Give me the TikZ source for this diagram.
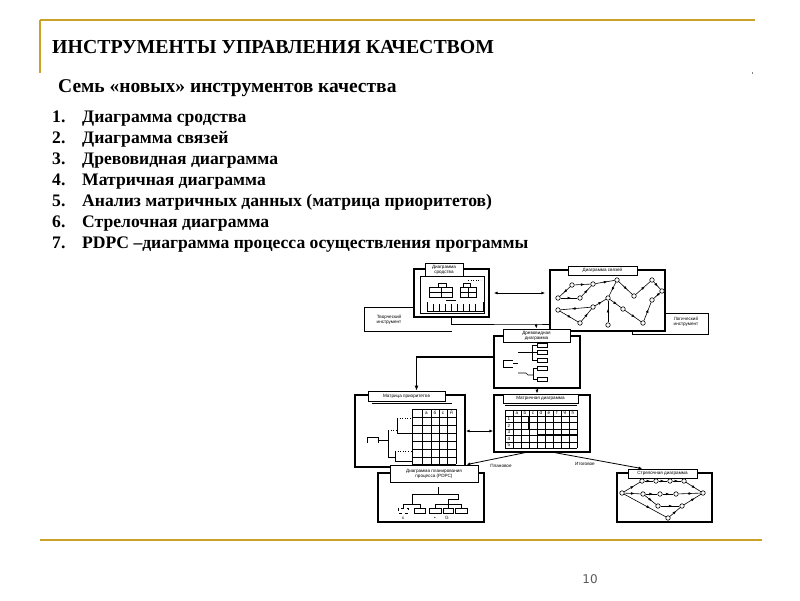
\documentclass[tikz,border=0pt]{standalone}
\usepackage{fontspec}
\setmainfont{Liberation Serif}
\newfontfamily\pagenumfont{DejaVu Sans}
\newfontfamily\dgsans{Liberation Sans}
\newcommand\dgfont{\dgsans\fontsize{4.6}{5.2}\selectfont}
\usetikzlibrary{arrows.meta,decorations.markings}
\definecolor{gold}{RGB}{201,162,39}
\definecolor{pgnum}{RGB}{90,90,90}
\tikzset{
  goldline/.style={draw=gold, line width=2.2pt},
  heading/.style={inner sep=0pt, anchor=base west, font=\bfseries\fontsize{19.8}{22}\selectfont},
  subhead/.style={inner sep=0pt, anchor=base west, font=\bfseries\fontsize{19.5}{22}\selectfont},
  item/.style={inner sep=0pt, anchor=base west, font=\bfseries\fontsize{17.6}{19}\selectfont},
  frame/.style={draw, line width=1.3pt, fill=white, inner sep=0pt},
  inframe/.style={draw, line width=0.5pt},
  tab/.style={draw, line width=0.7pt, fill=white, inner sep=0pt, font=\dgfont, align=center},
  lbl/.style={inner sep=0pt, font=\dgfont, align=center},
  conn/.style={line width=0.8pt},
  arr/.style={conn, -{Latex[length=4pt,width=3pt]}},
  darr/.style={conn, {Latex[length=4pt,width=3pt]}-{Latex[length=4pt,width=3pt]}},
  thickarr/.style={line width=1.6pt, -{Latex[length=5pt,width=4pt]}},
  vx/.style={circle, draw, line width=0.6pt, fill=white, minimum size=4.5pt, inner sep=0pt},
  mida/.style={line width=0.6pt, postaction=decorate, decoration={markings, mark=at position 0.62 with {\arrow{Latex[length=3.5pt,width=2.8pt]}}}},
  fine/.style={line width=0.6pt},
}
\begin{document}
\begin{tikzpicture}[x=1pt,y=-1pt]
\useasboundingbox (0,0) rectangle (800,600);
% header
\draw[goldline] (40,20) -- (755,20);
\draw[goldline] (40,20) -- (40,73);
\fill[gray] (751.5,72) rectangle (753,73.5);
\node[heading] (title) at (52,53) {ИНСТРУМЕНТЫ УПРАВЛЕНИЯ КАЧЕСТВОМ};
\node[subhead] (sub) at (58,92) {Семь «новых» инструментов качества};
\foreach \t [count=\i] in {{Диаграмма сродства},{Диаграмма связей},{Древовидная диаграмма},{Матричная диаграмма},{Анализ матричных данных (матрица приоритетов)},{Стрелочная диаграмма},{PDPC –диаграмма процесса осуществления программы}}{
  \node[item] (num\i) at (52,101+21*\i) {\i.};
  \node[item] (txt\i) at (82,101+21*\i) {\t};
}
% footer
\draw[goldline] (40,540) -- (762,540);
\node[inner sep=0pt, anchor=base, font=\pagenumfont\fontsize{12}{14}\selectfont, text=pgnum] (pg) at (590,583) {10};

% ---------- diagram boxes ----------
\node[frame, minimum width=75pt, minimum height=48pt] (aff) at (451.5,293) {};
\node[frame, minimum width=115pt, minimum height=61pt] (rel) at (607.5,300.5) {};
\node[frame, minimum width=86pt, minimum height=52pt] (tree) at (537,362) {};
\node[frame, minimum width=110pt, minimum height=72pt] (prio) at (410,431) {};
\node[frame, minimum width=96pt, minimum height=57pt] (mat) at (542,423.5) {};
\node[frame, minimum width=106pt, minimum height=49pt] (pdpc) at (431,497.5) {};
\node[frame, minimum width=95pt, minimum height=49pt] (arrd) at (664.5,497.5) {};

% ---------- affinity diagram ----------
\draw[fine] (420,276) rectangle (484,313);
\node[tab, minimum width=38pt, minimum height=13pt] (afftab) at (444,269.5) {Диаграмма\\сродства};
\draw[fine] (429,287) rectangle (452,297);
\draw[fine] (429,292) -- (452,292);
\draw[fine] (438,283) rectangle (446,287);
\draw[fine] (441,287) -- (441,297);
\draw[fine] (460,287) rectangle (476,297);
\draw[fine] (468,287) -- (468,297);
\draw[fine] (460,292) -- (476,292);
\draw[fine] (463,283) rectangle (470,287);
\draw[fine] (427,302) -- (427,311) -- (483,311) -- (483,302);
\foreach \x in {433,439,...,477} \draw[fine] (\x,304) -- (\x,311);
\draw[fine] (446,300) -- (456,300);
\draw[fine, dotted] (468,280) -- (481,280);

% creative tool label
\node[lbl] (tvor) at (389,320) {Творческий\\инструмент};
\draw[fine] (aff.west |- 0,307) -- (364,307) -- (364,331) -- (452,331);

% ---------- relations diagram ----------
\node[tab, minimum width=69pt, minimum height=9pt] (reltab) at (602.5,270.5) {Диаграмма связей};
\foreach \n/\p in {r1/{(558,298)},r2/{(572,285)},r3/{(580,298)},r4/{(593,284)},r5/{(617,280)},r6/{(608,298)},r7/{(623,309)},r8/{(652,280)},r9/{(662,291)},r10/{(652,300)},r11/{(558,310)},r12/{(593,307)},r13/{(580,323)},r14/{(608,325)},r15/{(643,323)},r16/{(634,296)}}
  \node[vx] (\n) at \p {};
\foreach \a/\b in {r2/r1,r1/r3,r3/r4,r4/r5,r5/r6,r5/r16,r16/r8,r8/r9,r9/r10,r12/r11,r11/r13,r13/r12,r14/r6,r6/r7,r7/r15,r15/r10,r12/r6,r2/r4}
  \draw[mida] (\a) -- (\b);

% logical tool label
\node[lbl] (logi) at (686,322) {Логический\\инструмент};
\draw[fine] (rel.east |- 0,313) -- (708,313) -- (708,334) -- (632,334) -- (632,331);

% ---------- tree diagram ----------
\node[tab, minimum width=67pt, minimum height=13pt] (treetab) at (536.5,335.5) {Древовидная\\диаграмма};
\draw[fine] (513,360) -- (503,360) -- (503,367) -- (513,367);
\draw[fine] (513,363.5) -- (518,363.5);
\draw[fine] (518,352) -- (532,352);
\draw[fine] (532,345) -- (532,360);
\foreach \y in {345,352,360} {
  \draw[fine] (532,\y) -- (537,\y);
  \draw[fine] (537,\y-2) rectangle (547,\y+2);
}
\draw[fine] (518,373) -- (526,373) -- (528,375) -- (533,375);
\draw[fine] (533,368) -- (533,379);
\draw[fine] (533,368) -- (537,368);
\draw[fine] (533,379) -- (537,379);
\draw[fine] (537,366) rectangle (547,370);
\draw[fine] (537,377) rectangle (547,381);

% ---------- priority matrix ----------
\node[tab, minimum width=77pt, minimum height=10pt] (priotab) at (406.5,396) {Матрица приоритетов};
\draw[fine] (372,403) -- (452,403);
\foreach \x in {412,422,431,439,447,456} \draw[fine] (\x,409) -- (\x,464);
\foreach \y in {409,417,425,433,441,449,457,464} \draw[fine] (412,\y) -- (456,\y);
\foreach \c/\x in {а/426.5,б/435,с/443,д/451.5} \node[lbl] at (\x,413) {\c};
\draw[fine] (367,443) -- (367,437) -- (378,437) -- (378,443);
\draw[fine] (378,440) -- (388,440);
\draw[fine] (388,430) -- (388,457);
\draw[fine, dotted] (388,430) -- (397,430);
\draw[fine] (397,418) -- (397,433);
\draw[fine, dotted] (397,418) -- (412,418);
\draw[line width=1pt] (397,433) -- (412,433);
\draw[fine] (388,457) -- (395,457);
\draw[fine] (395,451) -- (395,461);
\draw[fine, dotted] (395,451) -- (412,451);
\draw[line width=1pt] (395,461) -- (412,461);

% ---------- matrix diagram ----------
\node[tab, minimum width=75pt, minimum height=9pt] (mattab) at (540.5,398.5) {Матричная диаграмма};
\draw[fine] (505,405) -- (577,405);
\foreach \x in {505,513,521,529,537,545,553,561,569,577} \draw[fine] (\x,410) -- (\x,448);
\foreach \y in {410,416,422,429,435,442,448} \draw[fine] (505,\y) -- (577,\y);
\foreach \c [count=\k] in {a,b,c,d,e,f,g,h} \node[lbl] at (509+8*\k,413) {\c};
\foreach \r [count=\k] in {1,2,3,4,5} \node[lbl] at (509,412.5+6.5*\k) {\r};
\draw[line width=1.1pt] (529,416) -- (529,429);
\draw[line width=1.1pt] (537,435) -- (577,435);

% ---------- PDPC ----------
\node[tab, minimum width=88pt, minimum height=17pt] (pdpctab) at (434,473.5) {Диаграмма планирования\\процесса (PDPC)};
\draw[fine] (438,487) -- (438,494);
\draw[fine] (412,494) -- (458,494);
\draw[fine] (412,494) -- (412,504);
\draw[fine] (458,494) -- (458,499) -- (448,499) -- (448,504);
\draw[fine] (403,504) -- (420,504);
\draw[fine] (403,504) -- (403,508);
\draw[fine] (420,504) -- (420,508);
\draw[fine, dashed] (398,508) rectangle (408,513);
\draw[fine] (414,508) rectangle (425,513);
\draw[fine] (435,504) -- (461,504);
\foreach \x in {435,448,461} \draw[fine] (\x,504) -- (\x,508);
\draw[fine] (429,508) rectangle (441,513);
\draw[fine] (443,508) rectangle (453,513);
\draw[fine] (455,508) rectangle (467,513);
\node[lbl] (px) at (403,518) {x};
\node[lbl] (pd) at (435,518) {•};
\node[lbl] (pg2) at (447,518) {G};

% ---------- arrow diagram ----------
\node[tab, minimum width=69pt, minimum height=9pt] (arrdtab) at (662.5,473.5) {Стрелочная диаграмма};
\foreach \n/\p in {s/{(622,493)},t1/{(642,481)},t2/{(656,481)},t3/{(670,481)},t4/{(684,481)},m1/{(643,494)},m2/{(660,494)},m3/{(676,494)},e/{(703,493)},l1/{(658,506)},l2/{(682,506)},bt/{(668,518)}}
  \node[vx] (\n) at \p {};
\foreach \a/\b in {s/t1,t1/t2,t2/t3,t3/t4,t4/e,s/m1,m1/m2,m2/m3,m3/e,m1/l1,l1/l2,l2/e,s/bt,bt/l2}
  \draw[mida] (\a) -- (\b);

% ---------- connectors ----------
\coordinate (jn) at (536,324);
\draw[darr] ([xshift=4pt]aff.east) -- ([xshift=-4pt]aff.east -| rel.west);
\draw[conn] (aff.south) |- (jn) -- (jn -| rel.west);
\draw[arr] (jn) -- (treetab.north);
\draw[thickarr] ([yshift=5pt]tree.west) -| ([xshift=10pt]priotab.north);
\draw[arr] (tree.south) -- (tree.south |- mattab.north);
\draw[darr] (prio.east) -- (prio.east -| mat.west);
\draw[arr] ([xshift=-17pt]mat.south) -- ([xshift=-12pt]pdpctab.north east);
\draw[arr] ([xshift=13pt]mat.south) -- ([xshift=-20pt]arrdtab.north);
\node[lbl] (plan) at (501,466) {Плановое};
\node[lbl] (itog) at (585,464) {Итоговое};
\end{tikzpicture}
\end{document}
